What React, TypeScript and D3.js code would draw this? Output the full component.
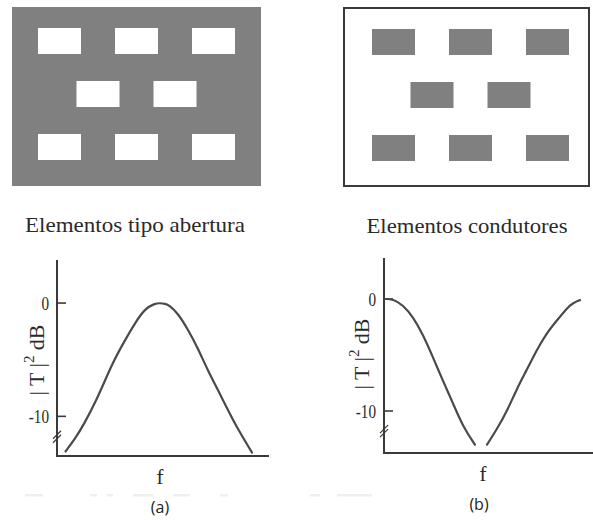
import React from "react";
import * as d3 from "d3";

// Hole / patch grid of the two frequency-selective surfaces (column, row in cell units)
const slotCols = [0, 1, 2, 0.5, 1.5, 0, 1, 2];
const slotRows = [0, 0, 0, 1, 1, 2, 2, 2];

// Transmission of the aperture-type surface (a): normalized frequency vs |T|^2 in dB
const apertureFreq = [4, 8.5, 13, 18, 22.5, 27, 32, 37, 41.5, 46, 48.5, 51, 53, 57, 62, 66.5, 71, 76, 80.5, 85.5, 92];
const apertureDb = [-13.1, -12.0, -10.6, -8.8, -6.9, -5.0, -3.3, -1.7, -0.5, -0.05, 0, -0.05, -0.2, -0.9, -2.4, -4.0, -5.9, -7.7, -9.4, -11.2, -13.2];

// Transmission of the conducting-patch surface (b); null marks the notch cut off at the axis break
const patchFreq = [0.5, 4.3, 9.1, 13.9, 18.7, 23.4, 28.2, 33.0, 37.8, 43.5, 46.4, 49.3, 54.1, 58.9, 63.6, 68.4, 73.2, 78.0, 82.8, 87.6, 90.5, 93.8];
const patchDb: (number | null)[] = [0, 0, -0.54, -1.6, -3.2, -5.2, -7.3, -9.3, -11.4, -13.0, null, -13.0, -11.6, -10.0, -8.0, -6.3, -4.5, -3.0, -1.9, -0.8, -0.35, -0.1];

const yTicks = [0, -10];
const yTickLabels = ["0", "-10"];

const GRAY = "#808080";
const INK = "#2a2a2a";
const SERIF = "'Liberation Serif', 'DejaVu Serif', serif";

type Pt = [number, number | null];

function Surface({ x0, y0, w, h, inverted, slotX, slotY, dx, dy, sw, sh }: any) {
  return (
    <g>
      <rect
        x={x0}
        y={y0}
        width={w}
        height={h}
        fill={inverted ? GRAY : "#fff"}
        stroke={inverted ? "none" : "#3a3a3a"}
        strokeWidth={inverted ? 0 : 2}
      />
      {slotCols.map((c, i) => (
        <rect
          key={i}
          x={slotX + c * dx}
          y={slotY + slotRows[i] * dy}
          width={sw}
          height={sh}
          fill={inverted ? "#fff" : GRAY}
        />
      ))}
    </g>
  );
}

function Response({
  freq,
  db,
  xRange,
  yDomain,
  yRange,
  labelX,
  labelY,
  fX,
  tag,
  tagX,
}: any) {
  const x = d3.scaleLinear().domain([0, 100]).range(xRange);
  const y = d3.scaleLinear().domain(yDomain).range(yRange);
  const pts: Pt[] = freq.map((f: number, i: number) => [f, db[i]]);
  const line = d3
    .line<Pt>()
    .defined((d) => d[1] !== null)
    .x((d) => x(d[0]))
    .y((d) => y(d[1] as number))
    .curve(d3.curveBasis);
  const ax = xRange[0];
  const bottom = yRange[0];
  const top = yRange[1];
  const breakY = y(-11.8);
  return (
    <g>
      {/* axes */}
      <line x1={ax} x2={ax} y1={top} y2={bottom + 1} stroke="#3a3a3a" strokeWidth={2} />
      <line x1={ax - 1} x2={xRange[1]} y1={bottom} y2={bottom} stroke="#3a3a3a" strokeWidth={2} />
      {yTicks.map((t, i) => (
        <g key={t}>
          <line x1={ax} x2={ax + 9} y1={y(t)} y2={y(t)} stroke="#3a3a3a" strokeWidth={1.6} />
          <text
            x={ax - 8}
            y={y(t) + 7}
            textAnchor="end"
            fontFamily={SERIF}
            fontSize={19}
            fill={INK}
            transform={`translate(${ax - 8},0) scale(0.8,1) translate(${-(ax - 8)},0)`}
          >
            {yTickLabels[i]}
          </text>
        </g>
      ))}
      {/* axis break */}
      {[-2, 2].map((o) => (
        <line
          key={o}
          x1={ax - 4}
          y1={breakY + o + 4}
          x2={ax + 4}
          y2={breakY + o - 4}
          stroke="#3a3a3a"
          strokeWidth={1.3}
        />
      ))}
      <path d={line(pts) || ""} fill="none" stroke="#4a4a4a" strokeWidth={2.2} strokeLinecap="round" />
      {/* y label */}
      <text
        transform={`translate(${labelX},${labelY}) rotate(-90)`}
        textAnchor="middle"
        fontFamily={SERIF}
        fontSize={22}
        fill={INK}
      >
        <tspan>| T |</tspan>
        <tspan dy={-10} fontSize={15}>2</tspan>
        <tspan dy={10}> dB</tspan>
      </text>
      <text x={fX} y={bottom + 28} textAnchor="middle" fontFamily={SERIF} fontSize={21} fill={INK}>
        f
      </text>
      <text x={tagX} y={bottom + 57} textAnchor="middle" fontFamily="'Open Sans', 'Liberation Sans', sans-serif" fontSize={16} fill="#222">
        {tag}
      </text>
    </g>
  );
}

export default function App() {
  return (
    <svg
      width={593}
      height={520}
      viewBox="0 0 593 520"
      style={{ position: "absolute", left: 0, top: 0, background: "#fff" }}
    >
      <rect width={593} height={520} fill="#fff" />
      <Surface x0={12} y0={7} w={249} h={179} inverted slotX={38} slotY={28} dx={77} dy={53} sw={43} sh={26} />
      <Surface x0={344} y0={8} w={245} h={178} inverted={false} slotX={372} slotY={29} dx={77} dy={53} sw={43} sh={26} />

      <text x={135} y={232} textAnchor="middle" fontFamily={SERIF} fontSize={21} fill={INK} textLength={220} lengthAdjust="spacingAndGlyphs">
        Elementos tipo abertura
      </text>
      <text x={467} y={233} textAnchor="middle" fontFamily={SERIF} fontSize={21} fill={INK} textLength={201} lengthAdjust="spacingAndGlyphs">
        Elementos condutores
      </text>

      {/* faint residue of a caption line */}
      {[[25, 18], [90, 7], [107, 6], [133, 20], [173, 17], [220, 8], [310, 10], [337, 35]].map(([sx, sw], i) => (
        <rect key={i} x={sx} y={494} width={sw} height={2.5} fill="#efefef" />
      ))}

      <Response
        freq={apertureFreq}
        db={apertureDb}
        xRange={[57, 269]}
        yDomain={[-13.5, 3.8]}
        yRange={[456, 260]}
        labelX={44}
        labelY={360}
        fX={160}
        tag="(a)"
        tagX={160}
      />
      <Response
        freq={patchFreq}
        db={patchDb}
        xRange={[384, 593]}
        yDomain={[-13.75, 3.66]}
        yRange={[453, 258]}
        labelX={369}
        labelY={354}
        fX={483}
        tag="(b)"
        tagX={479}
      />
    </svg>
  );
}
